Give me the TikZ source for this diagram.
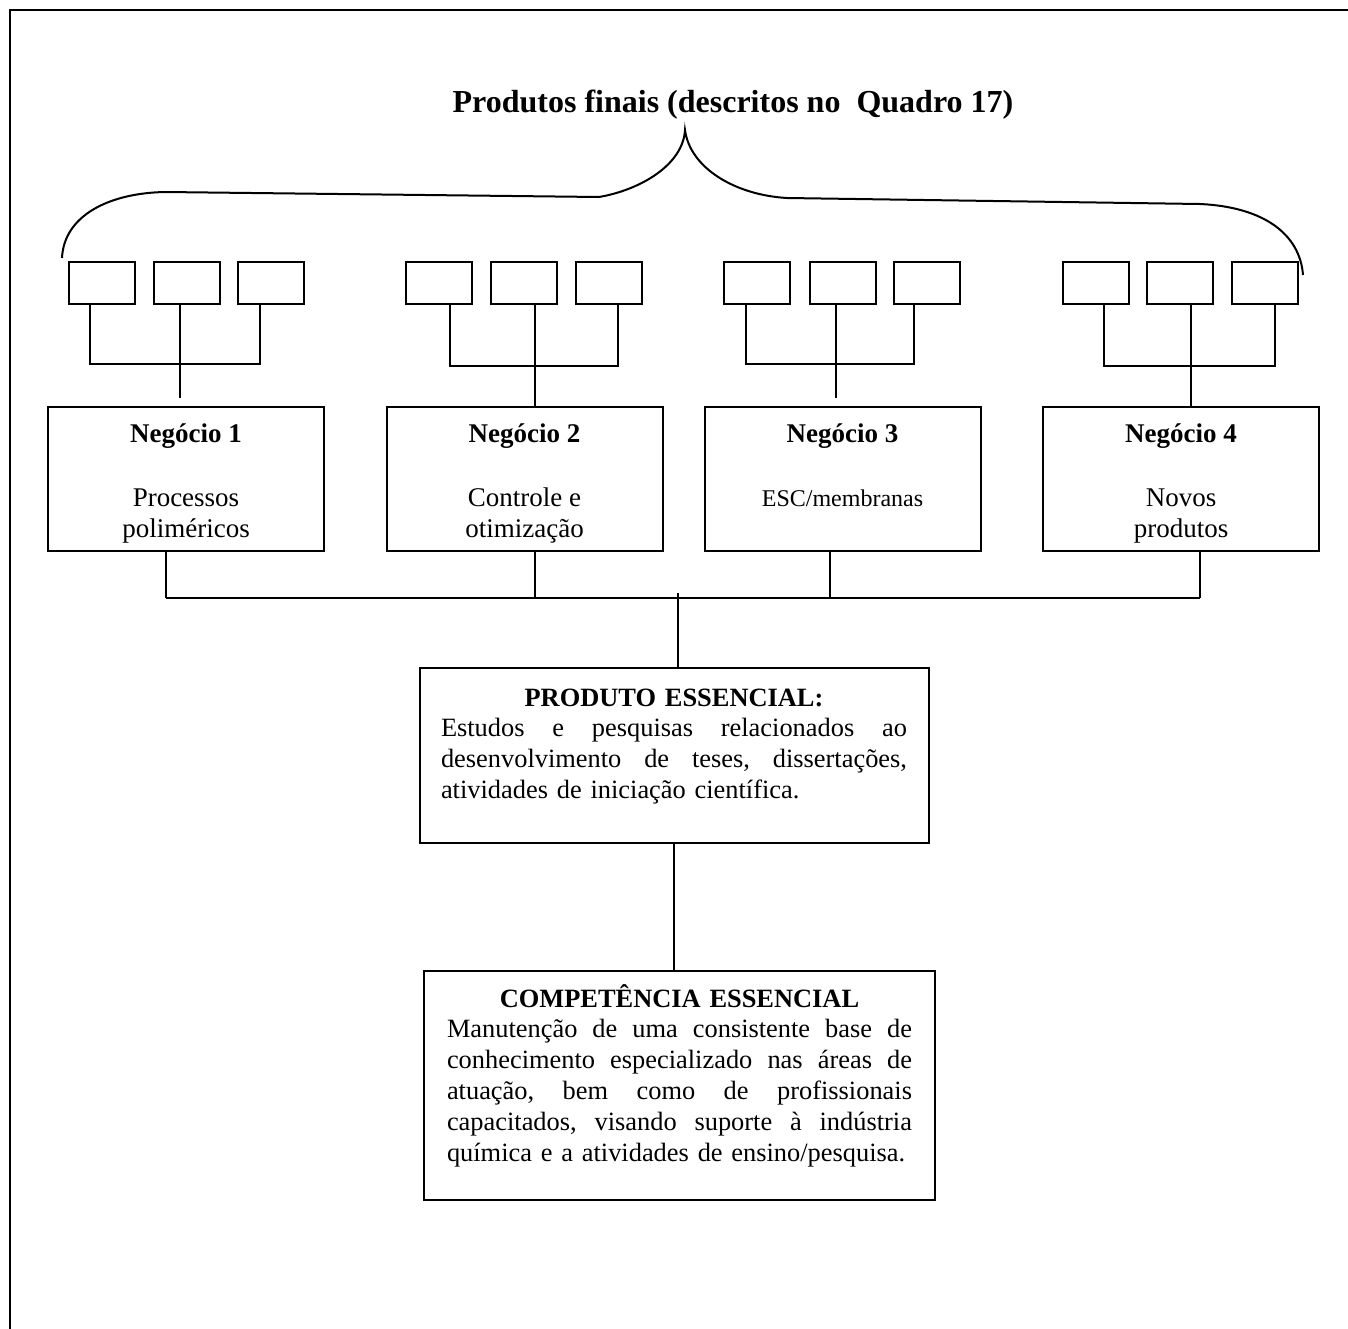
\documentclass[tikz,border=0pt]{standalone}
\usepackage{fontspec}
\setmainfont{Liberation Serif}
\usetikzlibrary{calc}

% a line set to a given width, its word spaces stretched evenly
\newcommand{\fullline}[2]{\leavevmode\hbox to #1{\frenchspacing\spaceskip=.25em plus 1fil\relax #2}}
% a line centred in a given width
\newcommand{\midline}[2]{\leavevmode\hbox to #1{\hss\rule{0pt}{13pt}#2\hss}}

\begin{document}
\begin{tikzpicture}[x=0.5pt,y=-0.5pt,line width=1pt,
  leaf/.style={draw,minimum width=33pt,minimum height=21pt,inner sep=0pt,outer sep=0pt},
  bizbox/.style={draw,minimum width=138pt,minimum height=72pt,inner sep=0pt,outer sep=0pt},
  essbox/.style={draw,inner sep=0pt,outer sep=0pt},
  bizhead/.style={font=\fontsize{13.5}{15.5}\selectfont\bfseries,anchor=base,inner sep=0pt},
  bizline/.style={font=\fontsize{13.5}{15.5}\selectfont,anchor=base,inner sep=0pt},
  esstext/.style={anchor=north west,align=left,inner sep=0pt,
    font=\fontsize{13.2}{15.4}\selectfont},
  titletext/.style={font=\fontsize{16}{19}\selectfont\bfseries,anchor=base,inner sep=0pt}]

\useasboundingbox (0,0) rectangle (1348,1328);

% outer frame (its right and bottom sides lie beyond the page)
\draw (10,10) rectangle (1420,1420);

% title and brace
\node[titletext] (title) at (733,112) {Produtos finais (descritos no\ \ Quadro 17)};
\draw (62,258) .. controls (64,215) and (110,193) .. (165,192)
  -- (599,197) .. controls (640,190) and (683,165) .. (685,130)
  .. controls (690,168) and (735,195) .. (787,198)
  -- (1200,204) .. controls (1265,207) and (1300,235) .. (1303,275);

% final products (empty boxes)
\node[leaf] (p11) at (102,283) {};
\node[leaf] (p12) at (186.5,283) {};
\node[leaf] (p13) at (271,283) {};
\node[leaf] (p21) at (439,283) {};
\node[leaf] (p22) at (523.5,283) {};
\node[leaf] (p23) at (609,283) {};
\node[leaf] (p31) at (757,283) {};
\node[leaf] (p32) at (842.5,283) {};
\node[leaf] (p33) at (927,283) {};
\node[leaf] (p41) at (1095.5,283) {};
\node[leaf] (p42) at (1179.5,283) {};
\node[leaf] (p43) at (1264.5,283) {};

% businesses
\node[bizbox] (n1) at (186,479) {};
\node[bizbox] (n2) at (524.5,479) {};
\node[bizbox] (n3) at (842.5,479) {};
\node[bizbox] (n4) at (1181,479) {};

\node[bizhead] (n1h) at (186,442) {Negócio 1};
\node[bizline] (n1a) at (186,506) {Processos};
\node[bizline] (n1b) at (186,537) {poliméricos};
\node[bizhead] (n2h) at (524.5,442) {Negócio 2};
\node[bizline] (n2a) at (524.5,506) {Controle e};
\node[bizline] (n2b) at (524.5,537) {otimização};
\node[bizhead] (n3h) at (842.5,442) {Negócio 3};
\node[bizline,font=\fontsize{12}{14}\selectfont] (n3a) at (842.5,506) {ESC/membranas};
\node[bizhead] (n4h) at (1181,442) {Negócio 4};
\node[bizline] (n4a) at (1181,506) {Novos};
\node[bizline] (n4b) at (1181,537) {produtos};

% product groups joined to their business
\coordinate (g1l) at (90,364);  \coordinate (g1m) at (180,364);  \coordinate (g1r) at (260,364);
\coordinate (g1e) at (180,398);
\draw (p11.south -| g1l) -- (g1l) -- (g1r) -- (p13.south -| g1r);
\draw (p12.south -| g1m) -- (g1e);

\coordinate (g2l) at (450,366); \coordinate (g2m) at (535,366); \coordinate (g2r) at (618,366);
\draw (p21.south -| g2l) -- (g2l) -- (g2r) -- (p23.south -| g2r);
\draw (p22.south -| g2m) -- (n2.north -| g2m);

\coordinate (g3l) at (746,364); \coordinate (g3m) at (836,364); \coordinate (g3r) at (914,364);
\coordinate (g3e) at (836,398);
\draw (p31.south -| g3l) -- (g3l) -- (g3r) -- (p33.south -| g3r);
\draw (p32.south -| g3m) -- (g3e);

\coordinate (g4l) at (1104,366); \coordinate (g4m) at (1191,366); \coordinate (g4r) at (1275,366);
\draw (p41.south -| g4l) -- (g4l) -- (g4r) -- (p43.south -| g4r);
\draw (p42.south -| g4m) -- (n4.north -| g4m);

% core product and core competence
\node[essbox,minimum width=254.5pt,minimum height=87.5pt] (pe) at (674.5,755.5) {};
\node[esstext,text width=233pt] (pet) at (440,679) {%
  \midline{233pt}{\textbf{PRODUTO ESSENCIAL:}}\\
  \fullline{233pt}{Estudos e pesquisas relacionados ao}\\
  \fullline{233pt}{desenvolvimento de teses, dissertações,}\\
  atividades de iniciação científica.};

\node[essbox,minimum width=255.5pt,minimum height=114.5pt] (ce) at (679.5,1085.5) {};
\node[esstext,text width=232.5pt] (cet) at (446,980) {%
  \midline{232.5pt}{\textbf{COMPETÊNCIA ESSENCIAL}}\\
  \fullline{232.5pt}{Manutenção de uma consistente base de}\\
  \fullline{232.5pt}{conhecimento especializado nas áreas de}\\
  \fullline{232.5pt}{atuação, bem como de profissionais}\\
  \fullline{232.5pt}{capacitados, visando suporte à indústria}\\
  química e a atividades de ensino/pesquisa.};

% businesses joined to the core product
\coordinate (bl) at (166,598);  \coordinate (b2) at (535,598);
\coordinate (b3) at (830,598);  \coordinate (br) at (1200,598);
\coordinate (bm) at (678,593);
\draw (bl) -- (br);
\draw (n1.south -| bl) -- (bl);
\draw (n2.south -| b2) -- (b2);
\draw (n3.south -| b3) -- (b3);
\draw (n4.south -| br) -- (br);
\draw (bm) -- (pe.north -| bm);

% core product joined to the core competence
\coordinate (cv) at (674,0);
\draw (pe.south -| cv) -- (ce.north -| cv);
\end{tikzpicture}
\end{document}
